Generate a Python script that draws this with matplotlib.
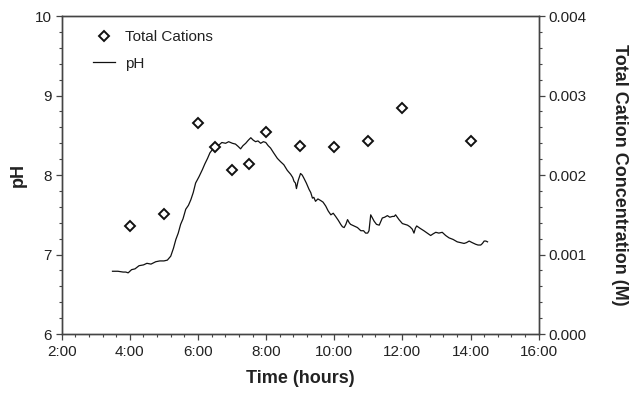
import matplotlib
matplotlib.use("Agg")
import matplotlib.pyplot as plt
from matplotlib.ticker import MultipleLocator, FuncFormatter, FormatStrFormatter

plt.rcParams['font.family'] = ['Liberation Sans', 'DejaVu Sans']

# total cation samples (hours, M)
cat_t = [4.0, 5.0, 6.0, 6.5, 7.0, 7.5, 8.0, 9.0, 10.0, 11.0, 12.0, 14.0]
cat_c = [0.00136, 0.00151, 0.00265, 0.00235, 0.00206, 0.00214,
         0.00254, 0.00237, 0.00235, 0.00243, 0.00284, 0.00243]

# pH probe trace
ph_t = [3.49, 3.65, 3.80, 3.88, 3.95, 4.05, 4.15, 4.27, 4.40, 4.50, 4.62, 4.76,
        4.88, 5.00, 5.10, 5.20, 5.28, 5.35, 5.42, 5.49, 5.56, 5.64, 5.72, 5.79,
        5.86, 5.93, 6.03, 6.13, 6.20, 6.28, 6.35, 6.42, 6.50, 6.62, 6.70, 6.81,
        6.90, 7.01, 7.10, 7.18, 7.25, 7.32, 7.40, 7.48, 7.55, 7.62, 7.69, 7.76,
        7.84, 7.92, 7.99, 8.06, 8.13, 8.22, 8.33, 8.42, 8.52, 8.62, 8.72, 8.78,
        8.82, 8.86, 8.89, 8.94, 9.01, 9.06, 9.11, 9.18, 9.26, 9.31, 9.36, 9.40,
        9.45, 9.52, 9.60, 9.67, 9.75, 9.82, 9.90, 9.97, 10.04, 10.12, 10.19,
        10.24, 10.29, 10.34, 10.39, 10.44, 10.48, 10.58, 10.68, 10.78, 10.86,
        10.92, 10.98, 11.02, 11.07, 11.12, 11.17, 11.24, 11.32, 11.36, 11.41,
        11.48, 11.56, 11.63, 11.71, 11.76, 11.80, 11.90, 12.00, 12.08, 12.15,
        12.22, 12.29, 12.34, 12.38, 12.42, 12.52, 12.63, 12.73, 12.83, 12.90,
        12.98, 13.07, 13.17, 13.27, 13.37, 13.49, 13.61, 13.71, 13.81, 13.88,
        13.96, 14.05, 14.15, 14.22, 14.30, 14.35, 14.40, 14.45, 14.50]
ph_v = [6.79, 6.79, 6.78, 6.78, 6.77, 6.81, 6.82, 6.86, 6.87, 6.89, 6.88, 6.91,
        6.92, 6.92, 6.93, 6.98, 7.08, 7.19, 7.27, 7.38, 7.45, 7.57, 7.62, 7.69,
        7.78, 7.90, 7.98, 8.07, 8.14, 8.21, 8.28, 8.32, 8.36, 8.38, 8.41, 8.40,
        8.42, 8.40, 8.39, 8.36, 8.33, 8.37, 8.40, 8.44, 8.47, 8.44, 8.42, 8.43,
        8.40, 8.42, 8.41, 8.37, 8.34, 8.28, 8.21, 8.17, 8.13, 8.06, 8.01, 7.97,
        7.92, 7.90, 7.83, 7.93, 8.02, 8.00, 7.96, 7.90, 7.82, 7.78, 7.71, 7.72,
        7.67, 7.70, 7.68, 7.66, 7.61, 7.55, 7.50, 7.52, 7.48, 7.43, 7.38, 7.35,
        7.34, 7.38, 7.44, 7.40, 7.38, 7.36, 7.34, 7.30, 7.30, 7.27, 7.27, 7.30,
        7.50, 7.46, 7.42, 7.38, 7.37, 7.41, 7.46, 7.47, 7.49, 7.47, 7.48, 7.48,
        7.50, 7.44, 7.39, 7.38, 7.37, 7.35, 7.32, 7.27, 7.33, 7.36, 7.33, 7.30,
        7.27, 7.24, 7.26, 7.28, 7.27, 7.28, 7.24, 7.21, 7.19, 7.16, 7.15, 7.14,
        7.15, 7.17, 7.15, 7.13, 7.12, 7.12, 7.14, 7.17, 7.17, 7.16]

fig = plt.figure(figsize=(6.3, 3.93), dpi=100)
ax = fig.add_axes([0.098, 0.150, 0.757, 0.809])
ax2 = ax.twinx()

line, = ax.plot(ph_t, ph_v, color='#111111', lw=0.9, label='pH')
pts, = ax2.plot(cat_t, cat_c, ls='none', marker='D', ms=5.5, mfc='white',
                mec='#111111', mew=1.4, label='Total Cations')

ax.set_xlim(2, 16)
ax.set_ylim(6, 10)
ax2.set_ylim(0, 0.004)

ax.xaxis.set_major_locator(MultipleLocator(2))
ax.xaxis.set_minor_locator(MultipleLocator(0.4))
ax.xaxis.set_major_formatter(FuncFormatter(lambda v, p: '%d:00' % int(round(v))))
ax.yaxis.set_major_locator(MultipleLocator(1))
ax.yaxis.set_minor_locator(MultipleLocator(0.2))
ax2.yaxis.set_major_locator(MultipleLocator(0.001))
ax2.yaxis.set_minor_locator(MultipleLocator(0.0002))
ax2.yaxis.set_major_formatter(FormatStrFormatter('%.3f'))

for a in (ax, ax2):
    for s in a.spines.values():
        s.set_color('#444444')
        s.set_linewidth(1.0)
    a.tick_params(which='major', length=4, width=0.9, color='#444444',
                  labelsize=11, labelcolor='#222222', pad=3)
    a.tick_params(which='minor', length=2.5, width=0.8, color='#444444')
ax.tick_params(axis='x', which='major', pad=4)

ax.set_xlabel('Time (hours)', fontsize=13, fontweight='bold', color='#222222', labelpad=8)
ax.set_ylabel('pH', fontsize=13, fontweight='bold', color='#222222', labelpad=6)
ax2.set_ylabel('Total Cation Concentration (M)', fontsize=13, fontweight='bold',
               color='#222222', rotation=270, labelpad=30)

leg = ax.legend([pts, line], ['Total Cations', 'pH'], loc='upper left',
                bbox_to_anchor=(0.066, 0.955), frameon=False, fontsize=11,
                borderpad=0, borderaxespad=0,
                handlelength=1.45, handletextpad=0.65, labelspacing=0.8)
for t in leg.get_texts():
    t.set_color('#222222')

fig.savefig('out.png', dpi=100)
